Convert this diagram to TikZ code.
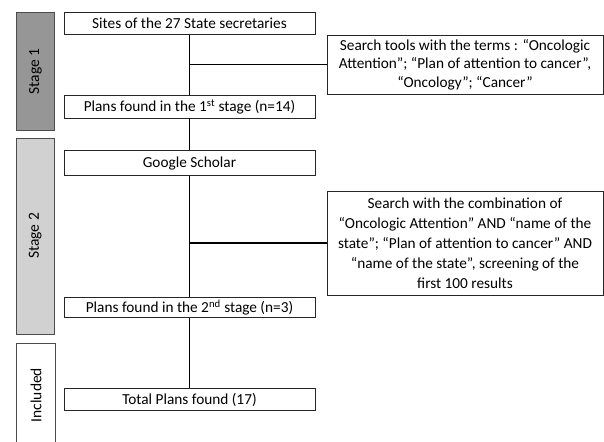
\documentclass[tikz,border=0pt]{standalone}
\usepackage{fontspec}
\setmainfont{Carlito}
\begin{document}
\begin{tikzpicture}[x=1pt,y=-1pt,
  box/.style={draw=black!85, line width=0.8pt, inner sep=0pt, align=center, font=\fontsize{15.3}{18.3}\selectfont},
  stagebox/.style={draw=black!70, line width=0.8pt, inner sep=0pt, minimum width=38.5pt},
  stagetext/.style={rotate=90, font=\fontsize{15.5}{16}\selectfont},
  conn/.style={line width=1.7pt, black}]
\useasboundingbox (0,0) rectangle (604,441);
\node[stagebox, fill=black!41, minimum height=117.3pt] (s1) at (35.5,71.4) {};
\node[stagetext] (s1t) at (s1.center) {Stage 1};
\node[stagebox, fill=black!18, minimum height=196pt] (s2) at (35.3,236) {};
\node[stagetext] (s2t) at (s2.center) {Stage 2};
\node[stagebox, fill=white, minimum height=104pt] (s3) at (36,395) {};
\node[stagetext] (s3t) at (s3.center) {Included};

\node[box, minimum width=251pt, minimum height=22pt] (sites) at (189.5,23.7) {Sites of the 27 State secretaries};
\node[box, minimum width=276pt, minimum height=59pt] (search1) at (465,64.5) {Search tools with the terms : “Oncologic\\Attention”; “Plan of attention to cancer”,\\“Oncology”; “Cancer”};
\node[box, minimum width=251pt, minimum height=22.3pt] (plans1) at (189.5,106.9) {Plans found in the 1\textsuperscript{st} stage (n=14)};
\node[box, minimum width=251pt, minimum height=25pt] (google) at (189.5,163.2) {Google Scholar};
\node[box, minimum width=276pt, minimum height=104pt, font=\fontsize{15.3}{20}\selectfont] (search2) at (465,243) {Search with the combination of\\“Oncologic Attention” AND “name of the\\state”; “Plan of attention to cancer” AND\\“name of the state”, screening of the\\first 100 results};
\node[box, minimum width=251pt, minimum height=20pt] (plans2) at (189.5,307.7) {Plans found in the 2\textsuperscript{nd} stage (n=3)};
\node[box, minimum width=251pt, minimum height=21.6pt] (total) at (189.5,399.5) {Total Plans found (17)};

\draw[conn] (sites.south) -- (plans1.north);
\draw[conn] (sites.south |- search1.west) -- (search1.west);
\draw[conn] (plans1.south) -- (google.north);
\draw[conn] (google.south) -- (plans2.north);
\draw[conn] (google.south |- search2.west) -- (search2.west);
\draw[conn] (plans2.south) -- (total.north);
\end{tikzpicture}
\end{document}
